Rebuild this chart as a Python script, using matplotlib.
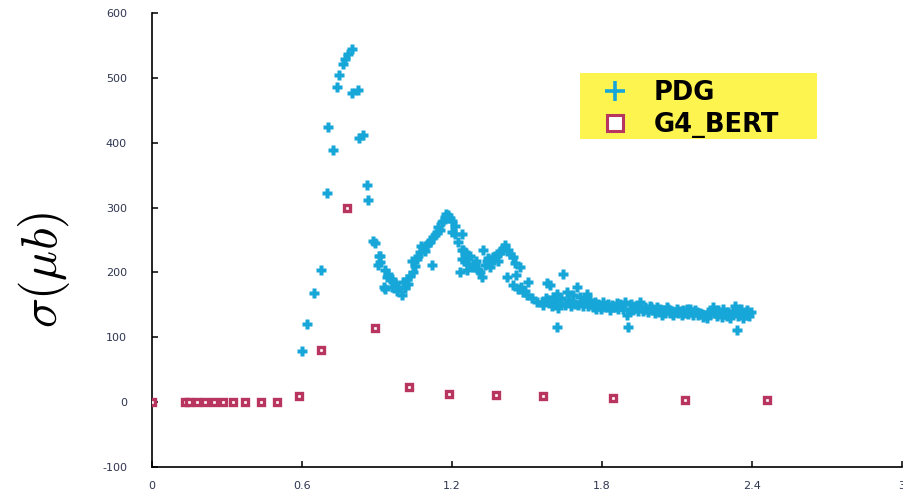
import matplotlib
matplotlib.use("Agg")
import matplotlib.pyplot as plt
from matplotlib.lines import Line2D
from matplotlib.patches import Rectangle

plt.rcParams["font.family"] = ["DejaVu Sans"]
plt.rcParams["mathtext.fontset"] = "cm"
plt.rcParams["axes.unicode_minus"] = False

# PDG measured cross section (photon energy in GeV, sigma in microbarn)
pdg_x = [
    0.599, 0.621, 0.648, 0.675, 0.699, 0.705, 0.725, 0.739, 0.749, 0.764,
    0.772, 0.785, 0.799, 0.799, 0.823, 0.829, 0.845, 0.859, 0.865, 0.885,
    0.892, 0.905, 0.909, 0.912, 0.912, 0.929, 0.932, 0.932, 0.941, 0.945,
    0.959, 0.959, 0.965, 0.972, 0.979, 0.985, 0.999, 1.005, 1.012, 1.019,
    1.025, 1.032, 1.039, 1.045, 1.052, 1.059, 1.065, 1.072, 1.078, 1.085,
    1.092, 1.099, 1.105, 1.112, 1.119, 1.125, 1.132, 1.139, 1.145, 1.152,
    1.159, 1.165, 1.172, 1.178, 1.185, 1.192, 1.199, 1.199, 1.212, 1.212,
    1.225, 1.232, 1.239, 1.239, 1.239, 1.245, 1.252, 1.252, 1.259, 1.259,
    1.265, 1.272, 1.285, 1.292, 1.298, 1.305, 1.312, 1.319, 1.325, 1.332,
    1.339, 1.345, 1.352, 1.358, 1.365, 1.372, 1.379, 1.385, 1.392, 1.399,
    1.405, 1.412, 1.419, 1.425, 1.432, 1.445, 1.445, 1.452, 1.458, 1.465,
    1.472, 1.478, 1.485, 1.492, 1.499, 1.505, 1.519, 1.539, 1.559, 1.565,
    1.575, 1.579, 1.585, 1.592, 1.598, 1.605, 1.605, 1.612, 1.619, 1.619,
    1.625, 1.632, 1.638, 1.645, 1.652, 1.659, 1.665, 1.672, 1.678, 1.685,
    1.692, 1.699, 1.705, 1.712, 1.718, 1.725, 1.732, 1.739, 1.745, 1.752,
    1.758, 1.765, 1.772, 1.778, 1.785, 1.792, 1.798, 1.805, 1.812, 1.819,
    1.825, 1.832, 1.838, 1.845, 1.852, 1.858, 1.865, 1.872, 1.878, 1.885,
    1.892, 1.899, 1.905, 1.912, 1.918, 1.925, 1.932, 1.938, 1.945, 1.952,
    1.958, 1.965, 1.972, 1.978, 1.985, 1.992, 1.998, 2.005, 2.012, 2.019,
    2.025, 2.032, 2.039, 2.045, 2.052, 2.059, 2.065, 2.072, 2.079, 2.085,
    2.092, 2.099, 2.105, 2.112, 2.119, 2.125, 2.132, 2.139, 2.145, 2.152,
    2.159, 2.165, 2.172, 2.179, 2.185, 2.192, 2.199, 2.205, 2.212, 2.219,
    2.225, 2.232, 2.239, 2.245, 2.252, 2.259, 2.265, 2.272, 2.279, 2.285,
    2.292, 2.299, 2.305, 2.312, 2.319, 2.325, 2.332, 2.339, 2.345, 2.352,
    2.358, 2.365, 2.372, 2.379, 2.385, 2.390, 2.395,
]
pdg_y = [
    79, 120, 168, 203, 323, 425, 388, 486, 505, 522,
    529, 537, 544, 477, 481, 407, 412, 335, 312, 248,
    246, 211, 225, 226, 216, 177, 203, 175, 193, 198,
    190, 177, 185, 183, 172, 178, 165, 185, 176, 190,
    182, 195, 218, 200, 210, 221, 226, 231, 240, 236,
    233, 242, 245, 247, 211, 254, 258, 262, 270, 266,
    277, 280, 285, 290, 288, 284, 280, 262, 272, 260,
    247, 201, 260, 234, 221, 234, 231, 218, 213, 203,
    222, 226, 208, 213, 218, 203, 200, 193, 235, 212,
    218, 222, 208, 215, 224, 226, 229, 218, 230, 235,
    238, 242, 193, 234, 228, 224, 180, 215, 196, 175,
    208, 178, 170, 172, 165, 185, 160, 154, 154, 150,
    160, 183, 157, 180, 148, 162, 154, 158, 167, 116,
    145, 152, 160, 197, 150, 170, 158, 154, 148, 165,
    152, 177, 150, 162, 155, 149, 158, 167, 148, 157,
    152, 147, 155, 143, 152, 149, 143, 155, 146, 149,
    152, 142, 150, 147, 146, 153, 144, 152, 148, 143,
    154, 134, 116, 144, 152, 142, 149, 145, 140, 154,
    146, 141, 147, 144, 139, 149, 146, 142, 137, 147,
    140, 144, 135, 142, 138, 147, 143, 137, 140, 135,
    139, 144, 137, 141, 134, 142, 138, 143, 136, 144,
    139, 135, 142, 139, 134, 138, 136, 131, 135, 130,
    139, 136, 141, 147, 137, 133, 142, 138, 132, 144,
    136, 133, 139, 129, 136, 140, 149, 111, 133, 137,
    143, 129, 135, 142, 138, 133, 139,
]

# GEANT4 Bertini cascade prediction
bert_x = [0.0, 0.132, 0.149, 0.179, 0.213, 0.248, 0.283, 0.325, 0.373, 0.436,
          0.499, 0.587, 0.676, 0.779, 0.892, 1.028, 1.19, 1.376, 1.564, 1.845,
          2.132, 2.459]
bert_y = [0, 0, 0, 0, 0, 0, 0, 0, 0, 0,
          0, 10, 80, 300, 114, 23, 13, 11, 9, 6,
          4, 3]

xticks = [0, 0.6, 1.2, 1.8, 2.4, 3]
xtick_labels = ["0", "0.6", "1.2", "1.8", "2.4", "3"]
yticks = [-100, 0, 100, 200, 300, 400, 500, 600]

cyan = "#16a6d8"
crimson = "#b8355f"

fig = plt.figure(figsize=(9.04, 4.93), dpi=100)
ax = fig.add_axes([152 / 904, 26 / 493, 750 / 904, 454 / 493])

ax.plot(pdg_x, pdg_y, linestyle="none", marker="P", ms=7.5,
        color=cyan, mec="none", zorder=3)
ax.plot(bert_x, bert_y, linestyle="none", marker="s", ms=5, mew=2.4,
        mfc="white", mec=crimson, zorder=4)

ax.set_xlim(0, 3)
ax.set_ylim(-100, 600)
ax.set_xticks(xticks)
ax.set_xticklabels(xtick_labels)
ax.set_yticks(yticks)
for s in ("top", "right"):
    ax.spines[s].set_visible(False)
for s in ("left", "bottom"):
    ax.spines[s].set_linewidth(1.2)
ax.tick_params(direction="in", length=4, width=1.1, labelsize=8,
               labelcolor="#2d3550")
ax.tick_params(axis="y", pad=18)
ax.tick_params(axis="x", pad=10)

fig.text(44 / 904, 1 - 270 / 493, r"$\sigma(\mu b)$", rotation=90,
         fontsize=36, ha="center", va="center")

# yellow key box
fig.patches.append(Rectangle((580 / 904, 1 - 139 / 493), 237 / 904, 66 / 493,
                             transform=fig.transFigure, facecolor="#fdf450",
                             edgecolor="none", zorder=5))
handles = [
    Line2D([], [], linestyle="none", marker="+", ms=15, mew=2.6, color=cyan),
    Line2D([], [], linestyle="none", marker="s", ms=11.5, mew=2.2,
           mfc="white", mec=crimson),
]
leg = fig.legend(handles, ["PDG", "G4_BERT"], loc="upper left",
                 bbox_to_anchor=(600 / 904, 1 - 80 / 493),
                 bbox_transform=fig.transFigure, frameon=False,
                 prop={"weight": "bold", "size": 18.5}, handlelength=1.2,
                 handletextpad=0.9, labelspacing=0.22, borderpad=0.0,
                 borderaxespad=0.0)
leg.set_zorder(6)

fig.savefig("out.png", dpi=100)
